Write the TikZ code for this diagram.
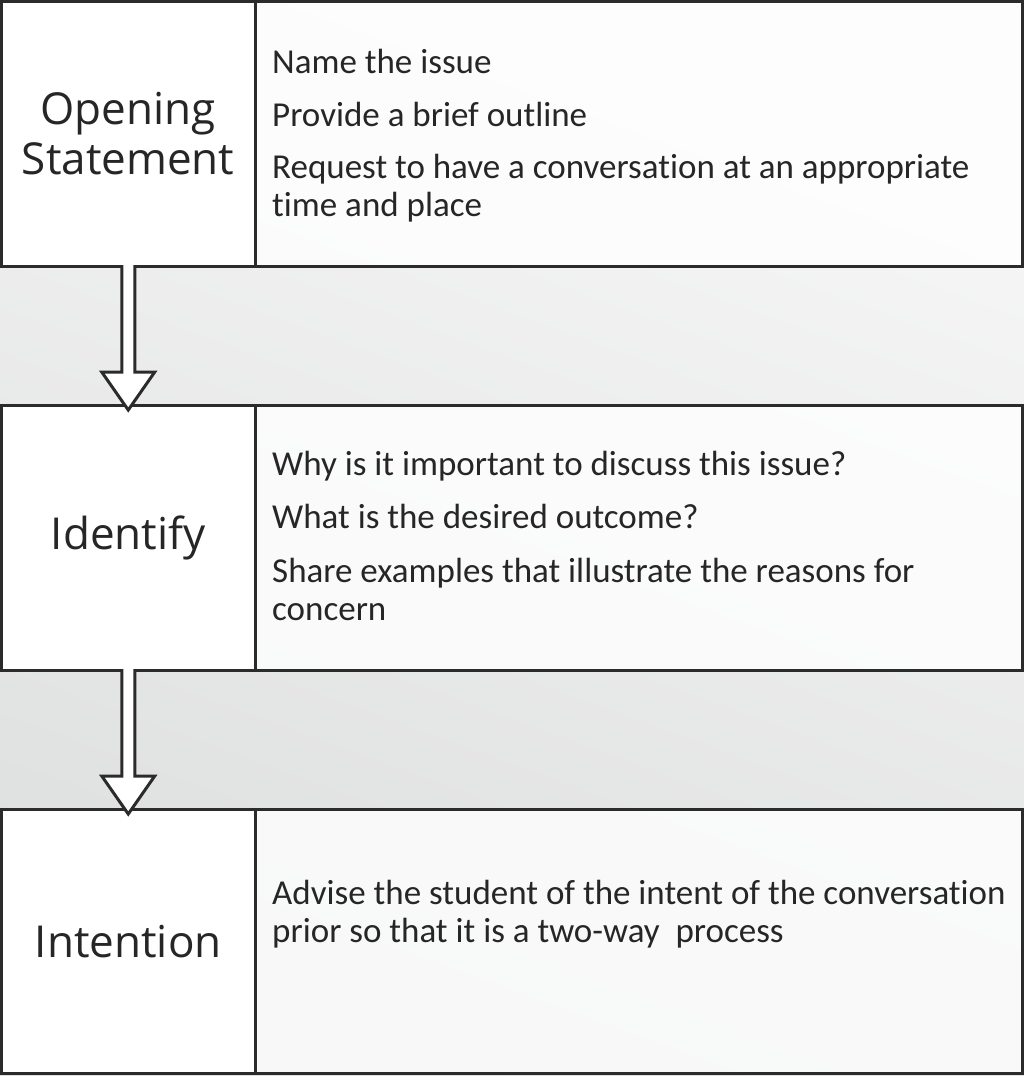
\documentclass[tikz,border=0pt]{standalone}
\usepackage{fontspec}
\setmainfont{Carlito}[Ligatures={NoCommon}]
\newfontfamily\labelfont{Open Sans}
\usetikzlibrary{calc}
\definecolor{ink}{HTML}{262626}
\definecolor{edge}{HTML}{2B2B2B}
\definecolor{bgtop}{HTML}{F7F7F7}
\definecolor{bgbot}{HTML}{DDDEDE}
\begin{document}
\begin{tikzpicture}[x=1pt,y=-1pt,
  frame/.style={draw=edge, line width=3pt, rectangle, outer sep=0pt, inner sep=0pt, anchor=north west},
  boxL/.style={frame, fill=white, minimum width=253.5pt, text=ink, align=center,
    font=\labelfont\fontsize{44}{50}\selectfont},
  boxR/.style={frame, fill=white, fill opacity=0.8, text opacity=1, minimum width=767pt},
  txt/.style={anchor=base west, inner sep=0pt, align=left, text=ink,
    font=\fontsize{35}{38}\selectfont},
  blockarrow/.style={draw=edge, line width=3pt, line join=miter}]
\useasboundingbox (0,0) rectangle (1024,1076);
\shade[top color=bgtop, bottom color=bgbot, shading angle=-20] (0,0) rectangle (1024,1076);

% row 1
\node[boxL, minimum height=265pt] (opL) at (1.5,1.5) {Opening\\Statement};
\node[boxR, minimum height=265pt] (opR) at (255,1.5) {};
\node[txt] (op1) at (272,73) {Name the issue};
\node[txt] (op2) at (272,126) {Provide a brief outline};
\node[txt] (op3) at (272,216) {Request to have a conversation at an appropriate\\time and place};

% row 2
\node[boxL, minimum height=265pt] (idL) at (1.5,405.5) {Identify};
\node[boxR, minimum height=265pt] (idR) at (255,405.5) {};
\node[txt] (id1) at (272,475) {Why is it important to discuss this issue?};
\node[txt] (id2) at (272,528) {What is the desired outcome?};
\node[txt] (id3) at (272,620) {Share examples that illustrate the reasons for\\concern};

% row 3
\node[boxL, minimum height=263.5pt] (inL) at (1.5,809.5) {Intention};
\node[boxR, minimum height=263.5pt] (inR) at (255,809.5) {};
\node[txt] (in1) at (272,942) {Advise the student of the intent of the conversation\\prior so that it is a two-way~ process};

% block arrows
\foreach \s/\e in {opL/idL, idL/inL}{
  \fill[white] ($(\s.south)+(-6.5,-1.5)$) -- ($(\e.north)+(-6.5,-33.5)$)
    -- ($(\e.north)+(-26.5,-33.5)$) -- ($(\e.north)+(0,4.5)$)
    -- ($(\e.north)+(26.5,-33.5)$) -- ($(\e.north)+(6.5,-33.5)$)
    -- ($(\s.south)+(6.5,-1.5)$) -- cycle;
  \draw[blockarrow] ($(\s.south)+(-6.5,-1.5)$) -- ($(\e.north)+(-6.5,-33.5)$)
    -- ($(\e.north)+(-26.5,-33.5)$) -- ($(\e.north)+(0,4.5)$)
    -- ($(\e.north)+(26.5,-33.5)$) -- ($(\e.north)+(6.5,-33.5)$)
    -- ($(\s.south)+(6.5,-1.5)$);
}
\end{tikzpicture}
\end{document}
